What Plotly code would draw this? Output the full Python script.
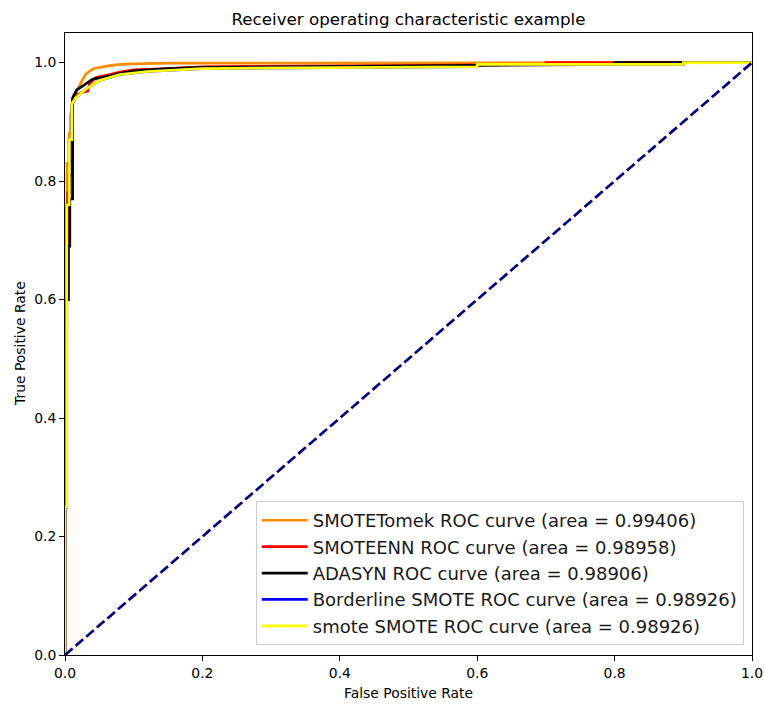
import plotly.graph_objects as go

# SMOTETomek
tomek_fpr = [0.0, 0.0, 0.002, 0.002, 0.003, 0.003, 0.006, 0.006, 0.008, 0.008, 0.012, 0.016, 0.02, 0.025, 0.03, 0.035, 0.042, 0.05, 0.065, 0.08, 0.1, 0.15, 0.37, 0.37, 1.0]
tomek_tpr = [0.0, 0.25, 0.25, 0.53, 0.53, 0.83, 0.83, 0.88, 0.88, 0.91, 0.94, 0.95, 0.96, 0.97, 0.98, 0.985, 0.99, 0.992, 0.995, 0.997, 0.998, 0.999, 0.999, 1.0, 1.0]

# SMOTEENN
enn_fpr = [0.0, 0.0, 0.002, 0.002, 0.004, 0.004, 0.006, 0.006, 0.011, 0.011, 0.016, 0.025, 0.033, 0.036, 0.045, 0.055, 0.065, 0.08, 0.1, 0.15, 0.2, 0.5, 0.7, 0.7, 1.0]
enn_tpr = [0.0, 0.25, 0.25, 0.6, 0.6, 0.78, 0.78, 0.81, 0.81, 0.93, 0.945, 0.95, 0.952, 0.965, 0.975, 0.978, 0.98, 0.984, 0.988, 0.99, 0.993, 0.995, 0.997, 1.0, 1.0]

# ADASYN
ada_fpr = [0.0, 0.0, 0.002, 0.002, 0.005, 0.005, 0.007, 0.007, 0.011, 0.011, 0.013, 0.017, 0.025, 0.032, 0.04, 0.06, 0.08, 0.1, 0.15, 0.2, 0.5, 0.8, 0.8, 1.0]
ada_tpr = [0.0, 0.25, 0.25, 0.6, 0.6, 0.69, 0.69, 0.77, 0.77, 0.94, 0.945, 0.954, 0.96, 0.966, 0.972, 0.976, 0.982, 0.986, 0.99, 0.992, 0.995, 0.997, 1.0, 1.0]

# Borderline SMOTE and smote SMOTE (identical curves)
sm_fpr = [0.0, 0.0, 0.0025, 0.0025, 0.006, 0.006, 0.01, 0.01, 0.015, 0.02, 0.03, 0.05, 0.08, 0.12, 0.2, 0.6, 0.6, 0.9, 0.9, 1.0]
sm_tpr = [0.0, 0.25, 0.25, 0.76, 0.76, 0.87, 0.87, 0.93, 0.94, 0.945, 0.955, 0.97, 0.98, 0.985, 0.99, 0.993, 0.997, 0.997, 1.0, 1.0]

names = [
    "SMOTETomek ROC curve (area = 0.99406)",
    "SMOTEENN ROC curve (area = 0.98958)",
    "ADASYN ROC curve (area = 0.98906)",
    "Borderline SMOTE ROC curve (area = 0.98926)",
    "smote SMOTE ROC curve (area = 0.98926)",
]
colors = ["#ff8c00", "#ff0000", "#000000", "#0000ff", "#ffff00"]
curves = [(tomek_fpr, tomek_tpr), (enn_fpr, enn_tpr), (ada_fpr, ada_tpr), (sm_fpr, sm_tpr), (sm_fpr, sm_tpr)]

diag_x = [0.0, 1.0]
diag_y = [0.0, 1.0]

tick_vals = [0, 0.2, 0.4, 0.6, 0.8, 1.0]
tick_text = ["0.0", "0.2", "0.4", "0.6", "0.8", "1.0"]

fig = go.Figure()
for (fx, fy), nm, c in zip(curves, names, colors):
    fig.add_trace(go.Scatter(x=fx, y=fy, mode="lines", name=nm,
                             line=dict(color=c, width=2.7)))
fig.add_trace(go.Scatter(x=diag_x, y=diag_y, mode="lines", showlegend=False,
                         line=dict(color="#000080", width=2.7, dash="10px,4px")))

W, H = 764, 704
L, R, T, B = 65, 12, 33, 49
font_family = "DejaVu Sans"
axis_common = dict(showgrid=False, zeroline=False, showline=True, linecolor="black",
                   linewidth=1, mirror=True, ticks="outside", ticklen=5, tickcolor="black",
                   tickfont=dict(size=13.9), automargin=False,
                   tickvals=tick_vals, ticktext=tick_text)
fig.update_layout(
    width=W, height=H,
    margin=dict(l=L, r=R, t=T, b=B),
    paper_bgcolor="white", plot_bgcolor="white",
    font=dict(family=font_family, size=13.9, color="black"),
    title=dict(text="Receiver operating characteristic example", x=0.5, xanchor="center",
               xref="paper", y=1 - 19/H, yanchor="middle", font=dict(size=16.7, color="black")),
    xaxis=dict(range=[0, 1], **axis_common),
    yaxis=dict(range=[0, 1.05], **axis_common),
    legend=dict(x=0.988, y=0.016, xanchor="right", yanchor="bottom",
                bgcolor="rgba(255,255,255,0.8)", bordercolor="#cccccc", borderwidth=1,
                font=dict(size=18, color="#1a1a1a"), tracegroupgap=0, itemwidth=46),
    annotations=[
        dict(text="False Positive Rate", xref="paper", yref="paper", x=0.5,
             y=-(693 - (H - B)) / (H - T - B), xanchor="center", yanchor="middle",
             showarrow=False, font=dict(size=13.9)),
        dict(text="True Positive Rate", xref="paper", yref="paper",
             x=-(L - 20) / (W - L - R), y=0.5, xanchor="center", yanchor="middle",
             textangle=-90, showarrow=False, font=dict(size=13.9)),
    ],
)

fig.write_html("out.html", config={"displayModeBar": False},
               post_script="document.body.style.margin='0';document.body.style.overflow='hidden';")
